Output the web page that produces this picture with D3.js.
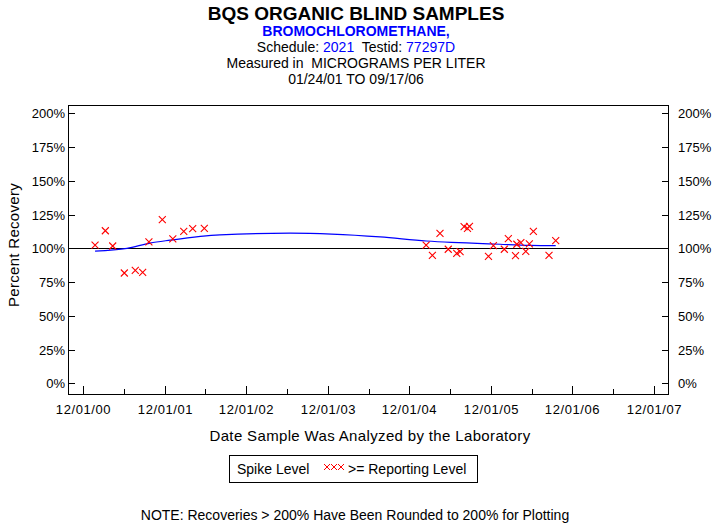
<!DOCTYPE html>
<html><head><meta charset="utf-8">
<script src="https://cdn.jsdelivr.net/npm/d3@7"></script>
<style>
html,body{margin:0;padding:0;background:#fff;}
svg{display:block;font-family:"Liberation Sans",Arial,Helvetica,sans-serif;}
</style></head>
<body>
<svg id="chart" width="713" height="523"></svg>
<script>
// ---- data ----
const sampleDates = ["2001-01-24","2001-03-11","2001-04-13","2001-06-04","2001-07-23","2001-08-25","2001-09-22","2001-11-21","2002-01-07","2002-02-25","2002-04-06","2002-05-28",
  "2005-02-14","2005-03-14","2005-04-17","2005-05-24","2005-07-01","2005-07-16","2005-08-03","2005-08-18","2005-08-27","2005-11-20","2005-12-12","2006-01-30","2006-02-17","2006-03-21","2006-03-27","2006-04-14","2006-05-06","2006-05-22","2006-06-09","2006-08-18","2006-09-17"];
const recoveries = [102.4,113.0,101.7,81.7,83.7,82.2,104.7,121.2,106.9,112.6,114.5,114.8,
  102.4,94.8,111.0,99.3,96.3,97.5,116.0,114.8,116.2,94.1,102.0,99.3,107.2,94.5,103.0,104.2,97.8,103.2,112.6,94.8,105.7];
const trendDates = ["2001-01-24","2001-06-16","2001-09-27","2001-12-26","2002-08-06","2003-06-16","2004-07-23","2005-02-14","2005-06-06","2005-09-30","2006-01-11","2006-05-25","2006-09-17"];
const trendValues = [97.9,100.0,103.9,106.0,109.9,111.2,108.4,105.4,104.4,103.7,103.0,102.2,102.0];
const yTicks = [0,25,50,75,100,125,150,175,200];
const xTickDates = ["2000-12-01","2001-12-01","2002-12-01","2003-12-01","2004-12-01","2005-12-01","2006-12-01","2007-12-01"];
const xTickLabels = ["12/01/00","12/01/01","12/01/02","12/01/03","12/01/04","12/01/05","12/01/06","12/01/07"];

const parse = d3.utcParse("%Y-%m-%d");
const svg = d3.select("#chart");

const L = 68, R = 668, T = 105, B = 394;
const x = d3.scaleUtc().domain([parse(xTickDates[0]), parse(xTickDates[xTickDates.length-1])]).range([83, 654]);
const y = d3.scaleLinear().domain([0, 200]).range([383.3, 113.3]);

// titles
const cx = 356;
svg.append("text").attr("x", cx).attr("y", 20).attr("text-anchor","middle")
  .attr("font-size", 19).attr("font-weight","bold").text("BQS ORGANIC BLIND SAMPLES");
svg.append("text").attr("x", cx).attr("y", 36).attr("text-anchor","middle")
  .attr("font-size", 14).attr("font-weight","bold").attr("fill","#0000ff").text("BROMOCHLOROMETHANE,");
const sched = svg.append("text").attr("x", cx).attr("y", 52).attr("text-anchor","middle").attr("font-size", 14);
sched.append("tspan").text("Schedule: ");
sched.append("tspan").attr("fill","#0000ff").text("2021");
sched.append("tspan").attr("xml:space","preserve").text("  Testid: ");
sched.append("tspan").attr("fill","#0000ff").text("77297D");
svg.append("text").attr("x", cx).attr("y", 68).attr("text-anchor","middle").attr("font-size", 14)
  .attr("xml:space","preserve").text("Measured in  MICROGRAMS PER LITER");
svg.append("text").attr("x", cx).attr("y", 84).attr("text-anchor","middle").attr("font-size", 14).text("01/24/01 TO 09/17/06");

// frame
svg.append("rect").attr("x", L+0.5).attr("y", T+0.5).attr("width", R-L).attr("height", B-T)
  .attr("fill","none").attr("stroke","#000").attr("stroke-width",1);

// y ticks left & right
const yg = svg.append("g");
yTicks.forEach(v => {
  const yy = Math.round(y(v)) + 0.5;
  yg.append("line").attr("x1", L).attr("x2", L+7).attr("y1", yy).attr("y2", yy).attr("stroke","#000");
  yg.append("line").attr("x1", R+0.5).attr("x2", R-6).attr("y1", yy).attr("y2", yy).attr("stroke","#000");
  yg.append("text").attr("x", L-3).attr("y", yy+4.5).attr("text-anchor","end").attr("font-size",13).text(v+"%");
  yg.append("text").attr("x", R+10).attr("y", yy+4.5).attr("text-anchor","start").attr("font-size",13).text(v+"%");
});

// x ticks
const xg = svg.append("g");
xTickDates.forEach((d,i) => {
  const dt = parse(d);
  const xx = Math.round(x(dt)) + 0.5;
  xg.append("line").attr("x1", xx).attr("x2", xx).attr("y1", B).attr("y2", B-8).attr("stroke","#000");
  xg.append("text").attr("x", xx).attr("y", 414).attr("text-anchor","middle").attr("font-size",13)
    .attr("letter-spacing", 0.6).text(xTickLabels[i]);
  if (i < xTickDates.length-1) {
    const mid = d3.utcMonth.offset(dt, 6);
    const mx = Math.round(x(mid)) + 0.5;
    xg.append("line").attr("x1", mx).attr("x2", mx).attr("y1", B).attr("y2", B-5).attr("stroke","#000");
  }
});

// axis titles
svg.append("text").attr("x", 370).attr("y", 441).attr("text-anchor","middle").attr("font-size",15)
  .attr("letter-spacing", 0.35).text("Date Sample Was Analyzed by the Laboratory");
svg.append("text").attr("transform","translate(19,245) rotate(-90)").attr("text-anchor","middle").attr("font-size",15)
  .attr("letter-spacing", 0.3).text("Percent Recovery");

// 100% reference line
svg.append("line").attr("x1", L).attr("x2", R).attr("y1", Math.round(y(100))+0.5).attr("y2", Math.round(y(100))+0.5)
  .attr("stroke","#000").attr("stroke-width",1);

// trend line
const trend = trendDates.map((d,i)=>({d:parse(d), v:trendValues[i]}));
svg.append("path").datum(trend)
  .attr("d", d3.line().x(p=>x(p.d)).y(p=>y(p.v)).curve(d3.curveMonotoneX))
  .attr("fill","none").attr("stroke","#0000ff").attr("stroke-width",1.2);

// markers
const pts = sampleDates.map((d,i)=>({d:parse(d), v:recoveries[i]}));
const s = 3.5;
const mg = svg.append("g");
pts.forEach(p => {
  const px = x(p.d), py = y(Math.min(p.v,200));
  mg.append("path").attr("d", `M${px-s},${py-s}L${px+s},${py+s}M${px-s},${py+s}L${px+s},${py-s}`)
    .attr("stroke","#ff0000").attr("stroke-width",1.1).attr("fill","none");
});

// legend
svg.append("rect").attr("x", 229.5).attr("y", 455.5).attr("width", 248).attr("height", 27)
  .attr("fill","none").attr("stroke","#000");
svg.append("text").attr("x", 237).attr("y", 474).attr("font-size",14).text("Spike Level");
[327,334,341].forEach(lx => {
  svg.append("path").attr("d", `M${lx-3},${467-3}L${lx+3},${467+3}M${lx-3},${467+3}L${lx+3},${467-3}`)
    .attr("stroke","#ff0000").attr("stroke-width",1);
});
svg.append("text").attr("x", 348).attr("y", 474).attr("font-size",14).text(">= Reporting Level");

// note
svg.append("text").attr("x", 355).attr("y", 520).attr("text-anchor","middle").attr("font-size",14)
  .text("NOTE: Recoveries > 200% Have Been Rounded to 200% for Plotting");
</script>
</body></html>
